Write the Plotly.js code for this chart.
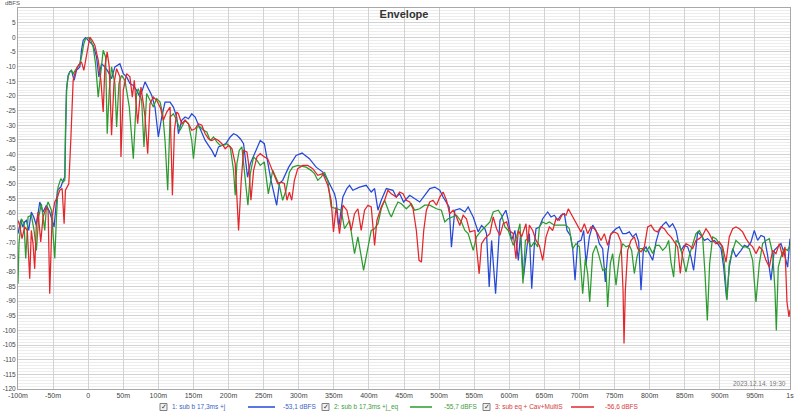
<!DOCTYPE html>
<html><head><meta charset="utf-8">
<script src="https://cdn.plot.ly/plotly-3.0.1.min.js"></script>
<style>html,body{margin:0;padding:0;background:#fff;}#chart{width:800px;height:414px;}</style>
</head><body><div id="chart"></div>
<script>
// [time in ms, level in dBFS]
const series1Points = [[-100,-67.0],[-96.2,-62.5],[-92.9,-64.7],[-90.5,-63.0],[-88.1,-62.5],[-84.8,-65.9],[-81,-59.6],[-77.6,-61.3],[-73.8,-64.2],[-69,-56.2],[-64.3,-59.6],[-59.5,-57.3],[-54.8,-59.6],[-51.4,-63.0],[-48.6,-64.7],[-43.8,-52.2],[-39,-51.1],[-35.7,-48.8],[-33.3,-47.7],[-31,-18.1],[-28.6,-13.0],[-26.2,-11.8],[-23.8,-11.3],[-21.4,-13.5],[-20,-14.7],[-16.7,-11.3],[-11.9,-10.1],[-9.5,-4.4],[-7.1,-1.0],[-3.8,-0.1],[0,-1.0],[3.8,-1.6],[7.1,-2.7],[11.9,-6.7],[15.2,-13.5],[19,-9.0],[23.8,-10.1],[28.6,-11.8],[33.3,-14.1],[38.1,-10.1],[45.2,-9.0],[50,-12.4],[54.8,-13.5],[59.5,-15.8],[64.3,-16.4],[69,-18.1],[73.8,-20.4],[78.6,-17.0],[81,-15.2],[85.7,-17.5],[90.5,-19.8],[95.2,-23.8],[100,-34.0],[104.8,-27.2],[109.5,-22.1],[116.7,-22.1],[121.4,-23.8],[126.2,-27.2],[128.6,-32.9],[133.3,-28.3],[138.1,-27.2],[142.9,-27.8],[147.6,-26.1],[152.4,-27.2],[157.1,-30.0],[161.9,-32.9],[166.7,-35.2],[171.4,-36.9],[176.2,-38.6],[181,-40.8],[185.7,-37.4],[190.5,-36.9],[196.2,-36.3],[202.4,-34.0],[207.1,-32.9],[211.9,-33.4],[216.7,-34.6],[221.4,-36.3],[227.1,-47.7],[231,-43.1],[235.7,-40.3],[240.5,-38.0],[245.2,-35.2],
[251,-36.3],[254.3,-40.8],[260.5,-48.8],[268.6,-57.3],[272.4,-49.9],[277.1,-48.8],[285.7,-44.3],[296.2,-40.3],[304.8,-39.5],[315.2,-41.4],[324.8,-44.3],[334.3,-46.0],[341.4,-48.8],[351,-53.4],[353.3,-55.6],[357.1,-64.7],[362.9,-54.5],[368.6,-51.6],[372.4,-50.5],[377.1,-52.2],[386.7,-51.1],[396.2,-50.5],[403.3,-52.8],[408.1,-51.6],[412.9,-59.0],[417.6,-55.6],[424.8,-51.6],[434.3,-52.2],[439,-54.5],[443.8,-53.4],[449.5,-56.2],[458.1,-53.9],[465.2,-55.1],[472.4,-56.2],[479.5,-53.9],[486.7,-51.6],[493.8,-51.1],[501,-52.2],[505.7,-54.5],[510.5,-56.2],[514.3,-57.9],[517.6,-71.6],[522.4,-59.0],[529.5,-58.5],[536.7,-59.6],[541.4,-57.9],[548.6,-61.3],[555.7,-66.4],[560.5,-64.2],[565.2,-65.3],[567.6,-67.0],[571.4,-85.2],[574.8,-69.3],[580.5,-87.5],[586.7,-62.5],[595.2,-59.0],[598.6,-62.5],[603.3,-69.3],[608.1,-65.9],[612.9,-76.1],[616.2,-67.0],[620,-82.4],
[626.3,-69.3],[628.6,-67.0],[632,-85.8],[635.8,-70.4],[638.1,-65.3],[642.9,-64.7],[647.6,-61.9],[654.7,-59.6],[659.5,-61.3],[664.2,-60.7],[669,-62.4],[673.7,-60.7],[678.5,-60.2],[682.3,-65.9],[687,-67.6],[690.4,-72.1],[693.7,-82.9],[697.5,-69.8],[702.2,-69.3],[706,-65.9],[709.4,-77.2],[714.1,-68.1],[718.9,-64.1],[723.6,-65.9],[728.3,-70.4],[733.1,-72.1],[736.9,-83.5],[740.2,-73.8],[744,-67.6],[747.3,-66.4],[752.1,-65.3],[756.8,-64.7],[761.6,-67.0],[766.3,-67.0],[771.1,-66.4],[775.8,-68.1],[780.6,-67.0],[784.4,-69.8],[787.7,-86.3],[791,-72.7],[794.8,-71.5],[799.6,-73.8],[804.3,-76.1],[809.1,-69.8],[813.8,-65.9],[818.6,-64.1],[823.3,-63.0],[828.1,-64.7],[832.8,-63.6],[837.6,-65.9],[840.9,-69.8],[844.7,-72.7],[849.4,-71.0],[854.2,-71.5],[858.9,-74.9],[862.7,-79.5],[866,-70.4],[868.4,-66.4],[873.2,-67.6],[877.9,-69.3],[882.7,-68.7],[887.4,-69.8],[892.2,-69.3],[896.9,-70.4],[901.7,-72.1],[905.5,-78.4],[909.7,-89.2],[913.5,-78.4],[918.3,-72.1],[923,-74.9],[930.2,-72.7],[934.9,-71.0],[939.7,-71.5],[944.4,-69.8],[949.1,-65.9],[953.9,-69.3],[958.6,-67.6],[963.4,-68.1],[968.1,-74.4],[972.9,-82.9],[977.6,-72.7],[982.4,-71.5],[987.1,-70.4],[991.9,-73.8],[996.6,-78.4],[1000,-68.7]];

const series2Points = [[-100,-84.1],[-98.6,-70.4],[-95.2,-61.9],[-91.4,-63.6],[-89,-75.5],[-85.7,-61.3],[-81,-60.7],[-77.1,-65.9],[-73.8,-72.7],[-70.5,-61.3],[-66.7,-56.8],[-61.9,-65.9],[-59.5,-57.9],[-57.1,-56.2],[-52.4,-59.0],[-47.6,-75.5],[-45.2,-61.3],[-42.9,-51.1],[-39,-48.2],[-35.7,-49.4],[-33.3,-48.8],[-32.4,-31.7],[-30.5,-17.0],[-28.6,-13.5],[-26.2,-11.8],[-23.8,-11.3],[-21.4,-12.4],[-19,-11.3],[-15.2,-10.1],[-11.9,-9.0],[-9.5,-6.7],[-6.2,-2.2],[-3.8,-0.5],[0,-0.1],[3.8,-1.0],[7.1,-3.3],[10.5,-9.0],[14.3,-20.4],[18.1,-11.3],[21.4,-4.4],[24.8,-6.7],[27.1,-32.9],[30,-18.1],[33.3,-10.1],[38.1,-15.8],[40.5,-30.6],[43.8,-15.8],[47.6,-13.0],[52.4,-14.7],[58.6,-23.8],[64.3,-41.4],[69,-19.2],[71.4,-17.5],[76.2,-21.5],[79.5,-37.4],[83.3,-19.2],[88.1,-21.5],[92.9,-23.8],[97.6,-20.9],[102.4,-22.1],[106.2,-26.1],[109.5,-35.2],[113.3,-52.2],[116.7,-27.2],[121.4,-26.1],[126.2,-28.3],[131,-31.7],[133.3,-30.6],[138.1,-28.3],[142.9,-29.5],[147.6,-35.2],[150,-41.4],[154.8,-30.6],[159.5,-30.6],[164.3,-31.7],[169,-32.3],[173.8,-35.2],[178.6,-34.0],[183.3,-35.7],[188.1,-36.9],[192.9,-36.9],[197.6,-36.3],[202.4,-37.4],[207.1,-45.4],[209.5,-53.9],[211.9,-43.1],[215.2,-38.6],[219,-37.4],[223.8,-48.8],[227.6,-57.3],[231,-46.5],[235.7,-40.8],[240.5,-42.0],[245.2,-43.7],
[251,-42.5],[256.7,-53.4],[262.9,-45.4],[267.6,-48.2],[272.4,-50.5],[277.1,-55.6],[281.9,-52.2],[286.7,-46.0],[291.4,-44.3],[298.6,-43.7],[310.5,-44.3],[317.6,-45.4],[322.4,-46.5],[327.1,-48.8],[331.9,-47.7],[336.7,-46.0],[341.4,-48.8],[346.2,-57.9],[353.3,-58.5],[360.5,-59.0],[365.2,-65.3],[372.4,-62.5],[379.5,-73.8],[384.3,-68.1],[392.4,-79.5],[398.6,-71.0],[403.3,-65.9],[408.1,-65.3],[412.9,-63.6],[417.6,-58.5],[422.4,-55.6],[429.5,-60.2],[431.9,-61.3],[436.7,-58.5],[441.4,-56.2],[446.2,-56.8],[453.3,-58.5],[460.5,-56.8],[465.2,-59.0],[472.4,-58.5],[479.5,-57.3],[486.7,-57.3],[496.2,-58.5],[503.3,-59.0],[508.1,-63.0],[512.9,-61.9],[520,-61.3],[524.8,-60.7],[531.9,-63.0],[536.7,-65.9],[541.4,-67.0],[548.6,-72.7],[553.3,-68.1],[560.5,-65.9],[572.4,-63.0],[577.1,-59.6],[584.3,-59.0],[589,-60.7],[593.8,-64.7],[598.6,-65.9],[605.7,-71.0],[610.5,-68.1],[615.2,-63.6],[619.5,-84.0],[623,-69.3],
[626.3,-68.7],[631,-71.5],[635.8,-69.8],[640.5,-71.5],[642.9,-64.7],[647.6,-63.0],[652.4,-63.6],[657.1,-63.0],[664.2,-64.1],[669,-64.1],[673.7,-64.1],[680.9,-64.1],[685.6,-65.3],[690.4,-72.1],[695.1,-70.4],[699.9,-71.5],[704.6,-87.5],[708.4,-75.5],[711.7,-80.6],[714.6,-90.3],[718.9,-73.8],[723.6,-71.0],[728.3,-74.9],[733.1,-79.5],[737.8,-78.9],[740.2,-92.0],[744,-77.2],[747.3,-73.8],[752.1,-84.6],[756.8,-74.9],[761.6,-70.4],[766.3,-71.5],[771.1,-71.0],[774.4,-72.7],[778.2,-80.6],[782,-74.9],[785.3,-72.1],[790.1,-72.1],[794.8,-73.2],[799.6,-71.5],[804.3,-73.8],[809.1,-71.0],[813.8,-71.0],[818.6,-72.7],[823.3,-71.5],[827.1,-69.3],[830.4,-76.7],[834.2,-81.8],[837.6,-69.3],[842.3,-70.4],[847.1,-74.9],[851.8,-80.1],[856.6,-74.4],[861.3,-71.0],[866,-67.0],[870.8,-65.9],[875.5,-68.1],[878.9,-80.6],[882.2,-96.6],[885.5,-77.2],[889.8,-68.1],[894.5,-68.7],[899.3,-70.4],[902.6,-71.0],[906.4,-77.2],[910.2,-89.7],[913.5,-77.2],[918.3,-72.7],[923,-69.3],[927.8,-70.4],[932.5,-71.5],[937.3,-71.5],[942,-72.1],[946.8,-76.1],[951.5,-90.3],[956.3,-77.2],[961,-70.4],[965.8,-69.3],[970.5,-68.7],[975.3,-73.8],[978.6,-86.3],[980.5,-100.0],[983.3,-78.4],[987.1,-74.9],[991.9,-72.1],[996.6,-72.7],[1000,-71.0]];

const series3Points = [[-100,-62.5],[-97.6,-64.2],[-94.3,-68.7],[-90.5,-64.7],[-86.7,-65.9],[-83.3,-82.4],[-81,-65.9],[-78.6,-70.4],[-76.2,-79.0],[-73.8,-63.6],[-71.4,-59.6],[-67.6,-69.8],[-64.3,-61.3],[-59.5,-57.9],[-57.1,-59.0],[-54.8,-87.5],[-51.4,-61.3],[-47.6,-56.2],[-43.8,-54.5],[-40.5,-52.2],[-37.1,-51.6],[-34.3,-63.6],[-32.4,-52.2],[-29.5,-50.5],[-27.6,-50.0],[-24.8,-35.2],[-21.4,-14.7],[-19,-12.4],[-15.2,-10.1],[-11.9,-9.0],[-9.5,-8.4],[-6.2,-11.3],[-3.8,-7.8],[-1,-3.3],[2.4,0.1],[5.7,-1.0],[9.5,-2.7],[14.3,-7.8],[18.1,-14.7],[21.4,-25.5],[23.8,-10.1],[27.1,-5.0],[30,-10.1],[33.3,-33.4],[36.7,-15.8],[40.5,-10.7],[45.2,-13.5],[46.7,-40.8],[50,-18.1],[54.8,-12.4],[59.5,-13.5],[62.9,-20.4],[65.7,-14.7],[70.5,-29.5],[75.2,-17.0],[78.6,-22.6],[81,-27.2],[84.8,-39.7],[88.1,-22.6],[92.9,-20.4],[97.6,-21.5],[103.3,-24.3],[107.1,-28.3],[111.9,-25.5],[116.7,-23.8],[120,-53.9],[122.9,-31.7],[126.2,-25.5],[128.6,-26.1],[133.3,-29.5],[138.1,-28.3],[142.9,-29.5],[147.6,-31.7],[152.4,-31.2],[157.1,-29.5],[161.9,-30.0],[166.7,-32.9],[171.4,-34.6],[176.2,-35.2],[181,-34.6],[185.7,-35.2],[190.5,-36.3],[195.2,-38.0],[200,-36.9],[204.8,-38.0],[209.5,-43.1],[214.3,-65.9],[218.1,-48.8],[221.4,-38.6],[226.2,-39.1],[228.6,-43.1],[231.9,-55.6],[235.7,-45.4],[240.5,-40.8],[245.2,-39.7],
[251,-40.8],[255.7,-41.4],[260.5,-44.3],[265.2,-47.1],[270,-49.9],[274.8,-49.4],[279.5,-49.9],[283.3,-55.6],[286.7,-52.8],[290,-55.6],[293.8,-48.8],[298.6,-44.8],[305.7,-43.7],[312.9,-43.7],[320,-44.8],[327.1,-47.1],[334.3,-46.5],[341.4,-50.5],[346.2,-55.6],[349.5,-66.4],[353.3,-57.9],[358.1,-67.0],[362.9,-57.3],[368.6,-59.0],[374.8,-65.9],[379.5,-60.2],[384.3,-58.5],[389,-65.9],[393.8,-59.0],[398.6,-57.3],[403.3,-57.9],[408.1,-71.0],[411.4,-62.5],[417.6,-57.9],[422.4,-55.6],[427.1,-52.2],[431.9,-53.4],[439,-54.5],[443.8,-52.8],[448.6,-53.4],[453.3,-55.6],[458.1,-56.2],[462.9,-58.5],[467.6,-65.9],[471.4,-76.1],[474.8,-76.7],[478.1,-65.9],[481.9,-59.0],[486.7,-56.2],[491.4,-55.6],[496.2,-57.3],[501,-54.5],[505.7,-52.8],[510.5,-55.6],[515.2,-60.2],[520,-59.0],[524.8,-61.3],[529.5,-64.2],[534.3,-60.7],[539,-61.9],[543.8,-66.4],[551,-65.9],[557.1,-80.7],[560.5,-70.4],[565.2,-68.7],[572.4,-67.0],[577.1,-61.3],[581.9,-65.3],[586.7,-67.6],[591.4,-63.6],[596.2,-63.0],[600,-65.9],[605.7,-67.0],[609.5,-75.5],[612.9,-65.9],[617.6,-68.1],[623.8,-63.6],
[626.3,-70.4],[628.6,-64.1],[633.4,-65.9],[638.1,-69.3],[642.9,-71.0],[647.6,-76.1],[652.4,-68.1],[657.1,-64.7],[661.9,-65.9],[666.6,-61.9],[671.4,-62.4],[676.1,-60.2],[680.9,-60.7],[684.2,-58.5],[688,-60.2],[692.7,-62.4],[697.5,-64.7],[702.2,-66.4],[707,-63.6],[711.7,-67.0],[716.5,-64.7],[721.2,-65.3],[726,-67.0],[730.7,-69.3],[735.5,-67.0],[740.2,-71.0],[745,-67.0],[749.7,-66.4],[754.5,-67.0],[759.2,-69.8],[762.1,-86.3],[763.5,-104.5],[765.4,-86.3],[768.7,-72.7],[773.5,-69.3],[778.2,-68.1],[783,-72.1],[787.7,-73.2],[792.5,-71.5],[797.2,-64.7],[801.9,-64.1],[806.7,-65.9],[811.4,-66.4],[816.2,-64.7],[820.9,-65.3],[825.7,-67.0],[830.4,-68.1],[835.2,-69.8],[839.9,-71.5],[843.7,-80.6],[847.1,-73.2],[851.8,-70.4],[856.6,-71.0],[861.3,-72.1],[866,-69.3],[870.8,-68.7],[875.5,-67.6],[880.3,-65.3],[885,-67.0],[889.8,-69.3],[894.5,-70.4],[899.3,-69.8],[904,-71.5],[908.8,-76.7],[913.5,-68.1],[918.3,-65.3],[923,-64.7],[927.8,-65.3],[932.5,-66.4],[937.3,-68.7],[942,-70.4],[946.8,-71.5],[951.5,-73.8],[956.3,-71.5],[961,-72.7],[965.8,-76.1],[970.5,-78.4],[975.3,-72.7],[980,-73.8],[984.8,-70.4],[989.5,-74.9],[992.8,-71.5],[995.7,-90.3],[998.5,-95.4],[1000,-93.0]];

const seriesNames = ["1: sub b 17,3ms +j", "2: sub b 17,3ms +j_eq", "3: sub eq + Cav+MultiS"];
const seriesLevels = ["-53,1 dBFS", "-55,7 dBFS", "-56,6 dBFS"];
const lineColors = ["#2548d6", "#2b9b2f", "#e2262b"];
const textColors = ["#3d5fbf", "#3f9c40", "#d33a3a"];

const xTickVals = [-100,-50,0,50,100,150,200,250,300,350,400,450,500,550,600,650,700,750,800,850,900,950,1000];
const xTickText = ["-100m","-50m","0","50m","100m","150m","200m","250m","300m","350m","400m","450m","500m","550m","600m","650m","700m","750m","800m","850m","900m","950m","1s"];
const yTickVals = [-120,-115,-110,-105,-100,-95,-90,-85,-80,-75,-70,-65,-60,-55,-50,-45,-40,-35,-30,-25,-20,-15,-10,-5,0,5];
const yTickText = ["-120","-115","-110","-105","-100","-95","-90","-85","-80","-75","-70","-65","-60","-55","-50","-45","-40","-35","-30","-25","-20","-15","-10","-5","0","5"];

const allSeries = [series1Points, series2Points, series3Points];
const traces = allSeries.map((pts, i) => ({
  type: 'scatter', mode: 'lines', name: seriesNames[i],
  x: pts.map(p => p[0]), y: pts.map(p => p[1]),
  line: {color: lineColors[i], width: 1.25},
  hoverinfo: 'skip'
}));

const PL = 18, PR = 790, PT = 8, PB = 389;
const px = x => (x - PL) / (PR - PL);
const py = y => (PB - y) / (PB - PT);
const FONT = 'Liberation Sans, Arial, sans-serif';

const annotations = [
  {text: 'dBFS', xref: 'paper', yref: 'paper', x: px(3), y: py(3), xanchor: 'left', yanchor: 'middle', showarrow: false, font: {family: FONT, size: 6, color: '#555'}},
  {text: '2023.12.14. 19:30', xref: 'paper', yref: 'paper', x: px(788), y: py(383), xanchor: 'right', yanchor: 'middle', showarrow: false, font: {family: FONT, size: 6.5, color: '#777'}}
];
const shapes = [];
const legendY = 407;
const boxX = [160, 322, 483];
const nameX = [170, 332, 493];
const lineX = [[248, 275], [410, 432], [571, 594]];
const levelX = [281, 442, 603];
for (let i = 0; i < 3; i++) {
  shapes.push({type: 'rect', xref: 'paper', yref: 'paper', x0: px(boxX[i]), x1: px(boxX[i] + 7), y0: py(legendY + 3.5), y1: py(legendY - 3.5), line: {color: '#808080', width: 1}, fillcolor: '#f2f2f2'});
  annotations.push({text: '✓', xref: 'paper', yref: 'paper', x: px(boxX[i] + 3.5), y: py(legendY), xanchor: 'center', yanchor: 'middle', showarrow: false, font: {family: 'DejaVu Sans', size: 7, color: '#333'}});
  annotations.push({text: seriesNames[i], xref: 'paper', yref: 'paper', x: px(nameX[i]), y: py(legendY), xanchor: 'left', yanchor: 'middle', showarrow: false, font: {family: FONT, size: 6.5, color: textColors[i]}});
  shapes.push({type: 'line', xref: 'paper', yref: 'paper', x0: px(lineX[i][0]), x1: px(lineX[i][1]), y0: py(legendY), y1: py(legendY), line: {color: lineColors[i], width: 1.5}});
  annotations.push({text: seriesLevels[i], xref: 'paper', yref: 'paper', x: px(levelX[i]), y: py(legendY), xanchor: 'left', yanchor: 'middle', showarrow: false, font: {family: FONT, size: 6.5, color: textColors[i]}});
}

const layout = {
  width: 800, height: 414,
  margin: {l: PL, r: 800 - PR, t: PT, b: 414 - PB, pad: 0},
  paper_bgcolor: '#ffffff', plot_bgcolor: '#ffffff',
  showlegend: false,
  title: {text: '<b>Envelope</b>', font: {family: FONT, size: 11, color: '#333'}, x: 0.5, xref: 'paper', xanchor: 'center', y: 1 - 14 / 414, yref: 'container', yanchor: 'middle'},
  xaxis: {
    range: [-100, 1000], tickmode: 'array', tickvals: xTickVals, ticktext: xTickText,
    showgrid: true, gridcolor: '#d2d2d2', gridwidth: 1, zeroline: false,
    showline: true, linecolor: '#a8a8a8', linewidth: 1, mirror: true,
    ticks: '', tickfont: {family: FONT, size: 7, color: '#444'}, fixedrange: true
  },
  yaxis: {
    range: [-120, 10], tickmode: 'array', tickvals: yTickVals, ticktext: yTickText,
    showgrid: true, gridcolor: '#d2d2d2', gridwidth: 1, zeroline: false,
    showline: true, linecolor: '#a8a8a8', linewidth: 1, mirror: true,
    minor: {tickmode: 'linear', tick0: 0, dtick: 1, showgrid: true, gridcolor: '#ededed', gridwidth: 1, ticks: ''},
    ticks: '', tickfont: {family: FONT, size: 6.5, color: '#444'}, fixedrange: true
  },
  annotations: annotations,
  shapes: shapes
};

Plotly.newPlot('chart', traces, layout, {displayModeBar: false, staticPlot: true});
</script>
</body></html>
